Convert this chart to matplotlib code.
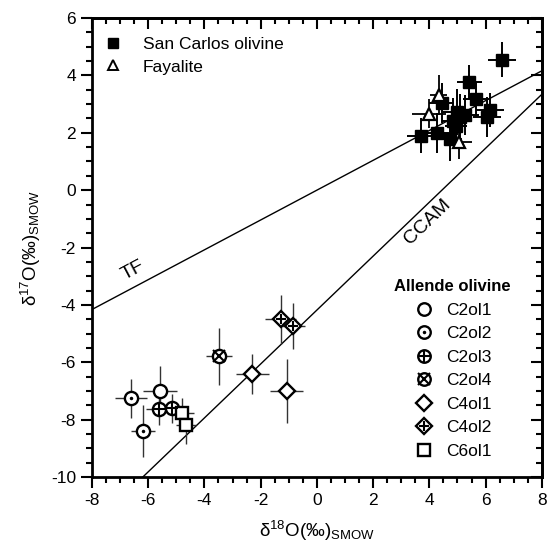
import matplotlib
matplotlib.use("Agg")
import matplotlib.pyplot as plt
import numpy as np
from matplotlib.lines import Line2D
from matplotlib.legend_handler import HandlerTuple

plt.rcParams['font.family'] = ['Liberation Sans', 'DejaVu Sans']
plt.rcParams['mathtext.default'] = 'regular'
plt.rcParams['axes.unicode_minus'] = False

# San Carlos olivine (filled squares)
sc_x = [6.57, 5.42, 5.66, 4.44, 4.97, 5.27, 6.16, 6.04, 4.84, 3.72, 4.26, 4.72, 5.1, 4.95]
sc_y = [4.55, 3.77, 3.18, 3.05, 2.73, 2.62, 2.80, 2.55, 2.40, 1.90, 1.98, 1.80, 2.55, 2.25]
sc_xerr = [0.5, 0.45, 0.45, 0.45, 0.5, 0.5, 0.5, 0.5, 0.4, 0.5, 0.45, 0.45, 0.4, 0.4]
sc_yerr = [0.6, 0.6, 0.6, 0.7, 0.8, 0.7, 0.6, 0.7, 0.8, 0.6, 0.7, 0.8, 0.8, 0.7]

# Fayalite (open triangles)
fa_x = [4.34, 3.99, 5.05]
fa_y = [3.31, 2.67, 1.68]
fa_xerr = [0.3, 0.6, 0.45]
fa_yerr = [0.7, 0.5, 0.6]

# Allende olivine groups
allende = {
    'C2ol1': dict(x=[-5.59], y=[-7.0], xerr=[0.6], yerr=[0.86]),
    'C2ol2': dict(x=[-6.62, -6.18], y=[-7.26, -8.39], xerr=[0.56, 0.42], yerr=[0.68, 0.9]),
    'C2ol3': dict(x=[-5.62, -5.15], y=[-7.63, -7.61], xerr=[0.46, 0.4], yerr=[0.55, 0.5]),
    'C2ol4': dict(x=[-3.48], y=[-5.79], xerr=[0.46], yerr=[1.0]),
    'C4ol1': dict(x=[-2.3, -1.08], y=[-6.42, -7.0], xerr=[0.58, 0.58], yerr=[0.7, 1.1]),
    'C4ol2': dict(x=[-1.28, -0.84], y=[-4.5, -4.74], xerr=[0.55, 0.4], yerr=[0.85, 0.8]),
    'C6ol1': dict(x=[-4.78, -4.66], y=[-7.76, -8.19], xerr=[0.4, 0.35], yerr=[0.5, 0.65]),
}
# base marker and inner mark for each group
marker_style = {
    'C2ol1': ('o', None),
    'C2ol2': ('o', '.'),
    'C2ol3': ('o', '+'),
    'C2ol4': ('o', 'x'),
    'C4ol1': ('D', None),
    'C4ol2': ('D', '+'),
    'C6ol1': ('s', None),
}

# reference lines
tf_slope, tf_icpt = 0.52, 0.0
ccam_slope, ccam_icpt = 0.94, -4.18

fig = plt.figure(figsize=(5.54, 5.57), dpi=100)
ax = fig.add_axes([0.166, 0.1436, 0.812, 0.824])

xs = np.array([-8, 8])
ax.plot(xs, tf_slope * xs + tf_icpt, color='black', lw=1.0, zorder=1)
ax.plot(xs, ccam_slope * xs + ccam_icpt, color='black', lw=1.0, zorder=1)

ax.errorbar(sc_x, sc_y, xerr=sc_xerr, yerr=sc_yerr, fmt='s', color='black',
            ms=9, elinewidth=1.4, capsize=0, zorder=3)
ax.errorbar(fa_x, fa_y, xerr=fa_xerr, yerr=fa_yerr, fmt='^', mfc='white', mec='black',
            ecolor='black', ms=8.5, mew=1.6, elinewidth=1.3, capsize=0, zorder=4)

handles = []
for name, d in allende.items():
    base, inner = marker_style[name]
    size = 9.5 if base == 'o' else 8.5
    ax.errorbar(d['x'], d['y'], xerr=d['xerr'], yerr=d['yerr'], fmt=base, mfc='white',
                mec='black', ecolor='#333333', ms=size, mew=1.7, elinewidth=1.0,
                capsize=0, zorder=3)
    h_base = Line2D([], [], ls='none', marker=base, mfc='white', mec='black', ms=size - 0.5, mew=1.7)
    if inner is not None:
        ims = 2 if inner == '.' else size - 1
        ax.plot(d['x'], d['y'], ls='none', marker=inner, color='black', ms=ims, mew=1.5, zorder=4)
        h_in = Line2D([], [], ls='none', marker=inner, color='black', ms=ims, mew=1.5)
        handles.append((h_base, h_in))
    else:
        handles.append(h_base)

ax.text(-6.55, -2.8, 'TF', rotation=28, fontsize=14, ha='center', va='center')
ax.text(3.95, -1.12, 'CCAM', rotation=44, fontsize=14, ha='center', va='center')

# legends
top_handles = [Line2D([], [], ls='none', marker='s', color='black', ms=7.5),
               Line2D([], [], ls='none', marker='^', mfc='white', mec='black', ms=7.5, mew=1.4)]
leg1 = ax.legend(top_handles, ['San Carlos olivine', 'Fayalite'], loc='upper left',
                 frameon=False, fontsize=12.5, handlelength=1.2, handletextpad=1.1,
                 labelspacing=0.4, borderpad=0, borderaxespad=0,
                 bbox_to_anchor=(0.0236, 0.958))
ax.add_artist(leg1)
leg2 = ax.legend(handles, list(allende.keys()), loc='upper left', frameon=False,
                 fontsize=12.5, title='Allende olivine', handlelength=1.2,
                 handletextpad=0.67, labelspacing=0.48, borderpad=0, borderaxespad=0,
                 handler_map={tuple: HandlerTuple(ndivide=1)},
                 bbox_to_anchor=(0.672, 0.431))
leg2.get_title().set_fontweight('bold')
leg2.get_title().set_fontsize(12)

ax.set_xlim(-8, 8)
ax.set_ylim(-10, 6)
ax.set_xticks(np.arange(-8, 9, 2))
ax.set_yticks(np.arange(-10, 7, 2))
ax.set_xticks(np.arange(-8, 8.1, 0.5), minor=True)
ax.set_yticks(np.arange(-10, 6.1, 0.5), minor=True)
ax.tick_params(which='both', direction='out', width=1.5, labelsize=12.5, top=False, right=False)
ax.tick_params(which='major', length=8)
ax.tick_params(which='minor', length=4)
ax2 = ax.secondary_xaxis('top')
ax2.set_xticks(np.arange(-8, 9, 2), labels=[])
ax2.set_xticks(np.arange(-8, 8.1, 0.5), minor=True)
ax2.tick_params(which='both', direction='in', width=1.5)
ax2.tick_params(which='major', length=8)
ax2.tick_params(which='minor', length=4)
ay2 = ax.secondary_yaxis('right')
ay2.set_yticks(np.arange(-10, 7, 2), labels=[])
ay2.set_yticks(np.arange(-10, 6.1, 0.5), minor=True)
ay2.tick_params(which='both', direction='in', width=1.5)
ay2.tick_params(which='major', length=8)
ay2.tick_params(which='minor', length=4)
for sp in ax.spines.values():
    sp.set_linewidth(2)
ax2.spines['top'].set_linewidth(2)
ay2.spines['right'].set_linewidth(2)

ax.set_xlabel(r'$\delta^{18}$O(‰)$_{SMOW}$', fontsize=13.5, labelpad=8)
ax.set_ylabel(r'$\delta^{17}$O(‰)$_{SMOW}$', fontsize=13.5, labelpad=6)

fig.savefig('out.png', dpi=100)
